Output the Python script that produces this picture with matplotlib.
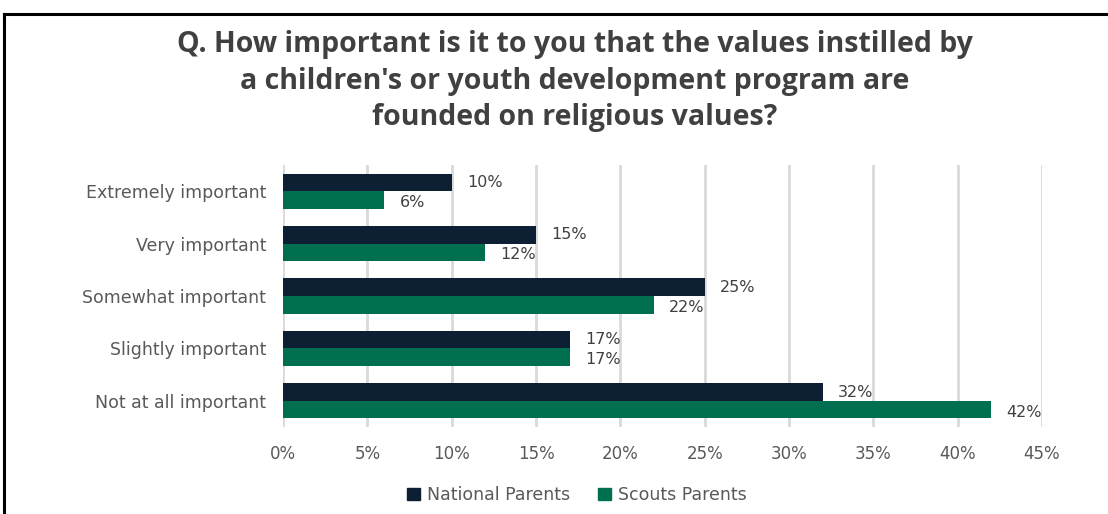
import matplotlib.pyplot as plt
import numpy as np
from matplotlib.lines import Line2D
from matplotlib.patches import Rectangle

categories = ["Extremely important", "Very important", "Somewhat important",
              "Slightly important", "Not at all important"]
national = [10, 15, 25, 17, 32]
scouts = [6, 12, 22, 17, 42]
series_names = ["National Parents", "Scouts Parents"]
xticks = [0, 5, 10, 15, 20, 25, 30, 35, 40, 45]

NAVY = "#0D1F33"
GREEN = "#006F50"
GRID = "#D9D9D9"
TEXT = "#595959"
BODY_FONT = "DejaVu Sans"

plt.rcParams['font.family'] = ['Open Sans', 'DejaVu Sans']

W, H = 1108, 514
fig = plt.figure(figsize=(W / 100, H / 100), dpi=100)

# frame lines around the chart area
fig.add_artist(Line2D([4 / W, 4 / W], [0, 1 - 14 / H], color="black", lw=2.2))
fig.add_artist(Line2D([4 / W, 1], [1 - 14 / H, 1 - 14 / H], color="black", lw=2.2))

fig.text(575 / W, 1 - 81 / H,
         "Q. How important is it to you that the values instilled by\n"
         "a children's or youth development program are\n"
         "founded on religious values?",
         ha="center", va="center", fontsize=20.5, fontweight="bold",
         color="#404040", linespacing=1.36)

ax = fig.add_axes([283 / W, 1 - 427 / H, (1042 - 283) / W, (427 - 165) / H])

y = np.arange(len(categories))
h = 0.335
ax.barh(y - h / 2, national, height=h, color=NAVY, label=series_names[0], zorder=3)
ax.barh(y + h / 2, scouts, height=h, color=GREEN, label=series_names[1], zorder=3)

for yi, v in zip(y, national):
    ax.text(v + 0.9, yi - h / 2, f"{v}%", va="center", ha="left",
            fontsize=11.5, color="#404040", family=BODY_FONT)
for yi, v in zip(y, scouts):
    ax.text(v + 0.9, yi + h / 2 + 0.05, f"{v}%", va="center", ha="left",
            fontsize=11.5, color="#404040", family=BODY_FONT)

ax.set_xlim(0, 45)
ax.set_ylim(len(categories) - 0.5, -0.5)
ax.set_xticks(xticks)
ax.set_xticklabels([f"{t}%" for t in xticks], fontsize=12, color=TEXT, family=BODY_FONT)
ax.set_yticks(y)
ax.set_yticklabels(categories, fontsize=12.5, color=TEXT, family=BODY_FONT)
ax.tick_params(axis="both", length=0)
ax.tick_params(axis="x", pad=13)
ax.tick_params(axis="y", pad=12)
ax.grid(axis="x", color=GRID, lw=2, zorder=0)
for s in ax.spines.values():
    s.set_visible(False)

handles = [Rectangle((0, 0), 1, 1, color=NAVY), Rectangle((0, 0), 1, 1, color=GREEN)]
fig.legend(handles, series_names, loc="center", bbox_to_anchor=(577 / W, 1 - 495 / H),
           ncol=2, frameon=False, handlelength=0.75, handleheight=0.75,
           handletextpad=0.4, columnspacing=1.6, labelcolor=TEXT,
           prop={"family": BODY_FONT, "size": 12.5})

fig.savefig("out.png", dpi=100)
